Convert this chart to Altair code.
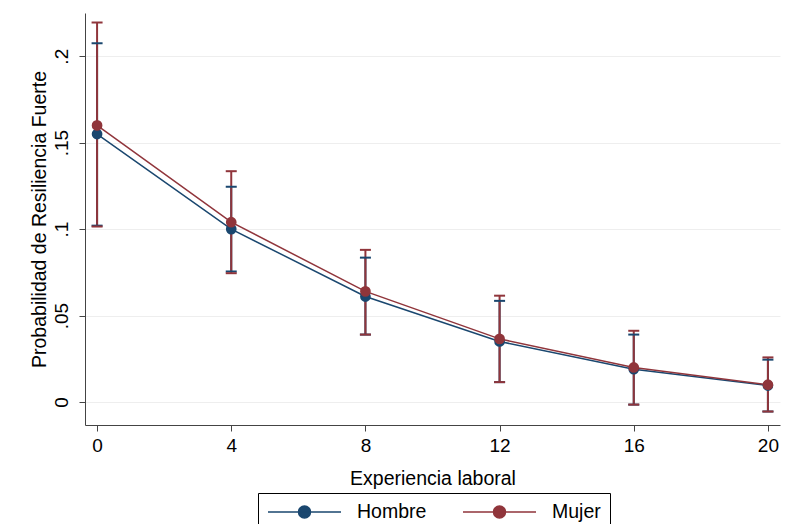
import altair as alt
import pandas as pd

x_vals = [0, 4, 8, 12, 16, 20]
series_names = ["Hombre", "Mujer"]
series_colors = ["#1a476f", "#90353b"]

hombre = [0.155, 0.100, 0.061, 0.035, 0.019, 0.0095]
hombre_lo = [0.102, 0.0755, 0.039, 0.0115, -0.0015, -0.0055]
hombre_hi = [0.2075, 0.1245, 0.0835, 0.0585, 0.039, 0.0245]

mujer = [0.160, 0.104, 0.064, 0.0365, 0.020, 0.010]
mujer_lo = [0.1015, 0.0745, 0.039, 0.0115, -0.0015, -0.0055]
mujer_hi = [0.2195, 0.1335, 0.088, 0.0615, 0.0412, 0.0258]

y_ticks = [0, 0.05, 0.1, 0.15, 0.2]

rows = []
for name, m, lo, hi in [("Hombre", hombre, hombre_lo, hombre_hi),
                        ("Mujer", mujer, mujer_lo, mujer_hi)]:
    for xi, mi, l, h in zip(x_vals, m, lo, hi):
        rows.append(dict(exp=xi, sexo=name, p=mi, lo=l, hi=h))
df = pd.DataFrame(rows)

FONT = "Liberation Sans"
xscale = alt.Scale(domain=[-0.36, 20.36], nice=False, zero=False)
yscale = alt.Scale(domain=[-0.0133, 0.225], nice=False, zero=False)

xaxis = alt.Axis(values=x_vals, title="Experiencia laboral", grid=False,
                 labelPadding=5, titlePadding=14)
yaxis = alt.Axis(values=y_ticks, title="Probabilidad de Resiliencia Fuerte",
                 labelExpr="replace(format(datum.value, '.2~f'), '0.', '.')",
                 labelAngle=-90, labelAlign="center", labelBaseline="bottom",
                 labelPadding=8, titlePadding=3, grid=True,
                 gridColor="#eeeeee", gridWidth=1)

legend_path = "M-1,0L1,0M-0.164,0A0.164,0.164,0,1,1,0.164,0A0.164,0.164,0,1,1,-0.164,0Z"
leg = alt.Legend(title=None, orient="none", legendX=173, legendY=480,
                 direction="horizontal", symbolType=legend_path,
                 symbolSize=5329, symbolStrokeWidth=1.5, clipHeight=20,
                 symbolOpacity=1,
                 labelFontSize=19.5, labelFont=FONT, labelColor="black",
                 labelOffset=15, columnPadding=35, padding=9,
                 strokeColor="black", fillColor="white")

stroke_enc = alt.Stroke("sexo:N", scale=alt.Scale(domain=series_names, range=series_colors), legend=leg)
fill_enc = alt.Fill("sexo:N", scale=alt.Scale(domain=series_names, range=series_colors), legend=leg)

base = alt.Chart(df)
x = alt.X("exp:Q", scale=xscale, axis=xaxis)

rules = base.mark_rule(strokeWidth=2, opacity=1).encode(
    x=x, y=alt.Y("lo:Q", scale=yscale, axis=yaxis), y2="hi:Q", stroke=stroke_enc)
caps_lo = base.mark_tick(orient="horizontal", size=11, thickness=2, opacity=1, strokeWidth=0).encode(
    x=x, y=alt.Y("lo:Q", scale=yscale), fill=fill_enc)
caps_hi = base.mark_tick(orient="horizontal", size=11, thickness=2, opacity=1, strokeWidth=0).encode(
    x=x, y=alt.Y("hi:Q", scale=yscale), fill=fill_enc)
lines = base.mark_line(strokeWidth=1.5, opacity=1).encode(
    x=x, y=alt.Y("p:Q", scale=yscale), stroke=stroke_enc, detail="sexo:N")
points = base.mark_point(filled=True, size=115, strokeWidth=0, opacity=1).encode(
    x=x, y=alt.Y("p:Q", scale=yscale), fill=fill_enc, stroke=stroke_enc)

chart = alt.layer(rules, caps_lo, caps_hi, lines, points).properties(
    width=695, height=412,
    autosize=alt.AutoSizeParams(type="none"),
    padding={"left": 77, "top": 5, "right": 2, "bottom": 99},
    background="white",
).configure_view(stroke=None).configure_axis(
    domainColor="#444444", tickColor="#444444", tickSize=6,
    labelFont=FONT, labelFontSize=19, labelColor="black",
    titleFont=FONT, titleFontSize=19.5, titleColor="black", titleFontWeight="normal",
)

chart.save("out.html", embed_options={"renderer": "svg", "actions": False})
